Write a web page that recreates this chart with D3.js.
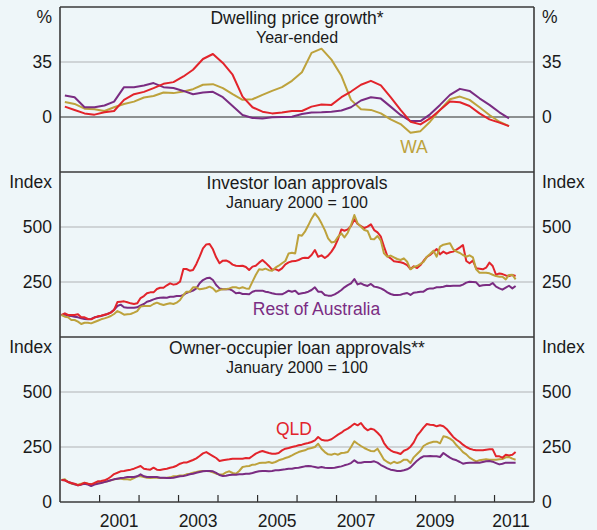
<!DOCTYPE html>
<html>
<head>
<meta charset="utf-8">
<script src="https://cdn.jsdelivr.net/npm/d3@7"></script>
<style>
  html, body { margin: 0; padding: 0; background: #eef6f9; }
  svg { display: block; font-family: "Liberation Sans", Arial, sans-serif; }
</style>
</head>
<body>
<div class="viewer"></div>
<script>
'use strict';

// quarterly, year-ended %, Q1 2000 .. Q2 2011
var priceQld = [6.6, 4.5, 2.3, 1.5, 3.0, 3.8, 10.9, 14.5, 16.0, 18.4, 21.1, 22.2, 25.8, 30.1, 36.9, 40.1, 34.4, 26.9, 13.0, 6.2, 3.4, 2.3, 2.8, 3.8, 3.8, 6.6, 7.9, 7.7, 12.6, 16.2, 20.5, 23.0, 20.1, 12.6, 4.5, -3.0, -4.7, -0.9, 4.5, 9.8, 9.4, 7.0, 2.3, -1.5, -3.6, -5.8];
var priceWa = [9.6, 8.3, 5.3, 4.9, 3.8, 6.2, 8.3, 9.8, 12.4, 13.4, 15.6, 15.2, 16.2, 17.7, 20.5, 20.9, 18.4, 14.5, 10.9, 11.3, 14.1, 16.6, 19.0, 23.0, 28.5, 40.8, 43.5, 36.5, 26.2, 10.9, 4.9, 4.5, 2.3, -1.5, -4.5, -10.0, -9.0, -3.0, 4.5, 11.3, 13.0, 10.9, 6.2, 1.3, -3.0, -5.8];
var priceRest = [13.7, 12.6, 6.2, 6.2, 7.3, 9.8, 19.0, 19.0, 20.1, 21.6, 19.0, 18.4, 16.6, 14.5, 15.6, 16.0, 12.6, 7.0, 1.3, -0.6, -0.9, -0.2, 0, 0.2, 1.9, 2.8, 3.0, 3.4, 4.1, 6.2, 10.5, 12.6, 11.7, 6.6, 1.3, -2.6, -2.6, 1.7, 7.7, 14.1, 17.9, 16.6, 11.9, 7.7, 3.0, -0.9];

// monthly index, Jan 2000 = 100, Jan 2000 .. Jul 2011
var investQld = [100, 107.6, 100, 100, 100, 103, 89.4, 89.4, 81.8, 80.3, 87.9, 93.9, 97, 101.5, 104.5, 110.6, 122.7, 159, 160.6, 162, 157.6, 153, 150, 153, 177, 186, 198.5, 203, 203, 218, 224, 224, 235, 244, 238, 241, 251.5, 309, 309, 301.5, 304.5, 332, 365, 403, 421, 423, 398.5, 362,
  335, 347, 348, 341, 329, 324, 323, 324, 318, 304.5, 320, 324, 338, 350, 338, 323, 306, 309, 301.5, 312, 330, 339, 344, 345, 350, 357.6, 360.6, 359, 372.7, 395.5, 365, 371, 359, 369.7, 388, 410.6, 445.5, 489, 483, 489, 504.5, 535, 513.6, 504.5, 495.5, 501.5, 512, 486, 475.8,
  456, 410.6, 368, 357.6, 344, 342.4, 339.4, 335, 327, 309, 321, 313.6, 327, 345.5, 363.6, 372.7, 386, 400, 375.8, 388, 378.8, 385, 388, 397, 407.6, 418, 345.5, 335, 347, 312, 310.6, 307.6, 315, 338, 322.7, 283, 289, 286, 280, 277, 282, 277];
var investWa = [100, 92.4, 89.4, 77.3, 77.3, 69.7, 59, 65, 65, 62, 68, 74, 80.3, 84.8, 89.4, 95.5, 104.5, 118, 110.6, 101.5, 103, 104.5, 110.6, 118, 138, 141, 141, 141, 150, 156, 150, 145.5, 150, 153, 150, 156, 168, 191, 206, 206, 225.8, 225.8, 216.7, 219.7, 222.7, 228.8, 221, 206,
  213.6, 216.7, 216.7, 221, 225.8, 225.8, 221, 225.8, 221, 219.7, 251.5, 281.8, 307.6, 306, 310.6, 303.8, 301.5, 315, 324, 335, 345.5, 380, 383, 380, 463.6, 460.6, 478.8, 507.6, 537.9, 562, 544, 516.7, 486, 448.5, 430, 433, 456, 471, 453, 474, 509, 554.5, 516.7, 501.5, 486, 482, 445.5, 444, 459,
  438, 380, 365, 370, 362, 354.5, 350, 357.6, 342, 307.6, 318, 322.7, 332, 341, 365, 377, 392.4, 365, 410.6, 419.7, 422.7, 425.8, 398.5, 388, 382, 372.7, 365, 371, 362, 307.6, 292.4, 292.4, 292.4, 289.4, 283, 277, 274, 274, 262, 282, 283, 262];
var investRest = [100, 101.5, 97, 95.5, 92.4, 89.4, 84.8, 81.8, 80.3, 81.8, 89.4, 92.4, 95.5, 100, 104.5, 112, 124, 141, 147, 135, 133, 133, 133, 135, 144, 150, 160.6, 165, 171, 175.8, 178.8, 180, 178.8, 183, 183, 186, 186, 191, 200, 206, 210.6, 221, 244, 259, 266.7, 269.7, 259, 236,
  221, 216.7, 216.7, 218, 210.6, 198.5, 201.5, 195.5, 195.5, 194, 206, 210.6, 210.6, 210.6, 206, 203, 198.5, 195.5, 194, 194, 201.5, 210.6, 206, 210.6, 195.5, 198.5, 201.5, 206, 213.6, 225.8, 206, 206, 191, 188, 188, 194, 203, 213.6, 225.8, 236, 244, 263.6, 239, 244, 236, 232, 241, 229, 225.8,
  221, 213.6, 203, 195.5, 191, 191, 192.4, 197, 200, 191, 201.5, 203, 206, 206, 216.7, 221, 221, 225.8, 225.8, 228.8, 233, 231.8, 233, 233, 233, 238, 247, 251.5, 250, 248.5, 231.8, 234.8, 236, 236, 245.5, 228.8, 221, 215, 224, 233, 221, 232];

var ownerQld = [100, 98.5, 91, 86.4, 83.3, 75.8, 80.3, 88, 83.3, 80.3, 86.4, 94, 95.5, 98.5, 104.5, 115, 127, 133, 139.4, 141, 144, 147, 151.5, 157.6, 163.6, 151.5, 148.5, 147, 156, 147, 145.5, 148.5, 151.5, 156, 159, 165, 174, 179, 179, 185, 191, 198.5, 209, 221, 227, 218, 209, 200,
  186, 189.4, 192.4, 194, 197, 197, 197, 197, 200, 198.5, 209, 219.7, 227, 232, 227, 222.7, 219.7, 219.7, 222.7, 234.8, 242.4, 245.5, 250, 253, 257.6, 260.6, 265, 268, 272.7, 280, 295.5, 283, 280, 280, 285, 295.5, 306, 315, 325.8, 333.3, 344, 356, 348.5, 359, 338, 325.8, 333.3, 328.8, 315,
  298.5, 268, 247, 234.8, 227, 224, 218, 233, 239, 251.5, 271, 301.5, 319.7, 338, 354.5, 351.5, 350, 344, 348.5, 344, 332, 313.6, 295.5, 283, 272.7, 260.6, 250, 242.4, 237.9, 234.8, 234.8, 234.8, 237.9, 239.4, 239.4, 207.6, 207.6, 201.5, 215, 212, 215, 227];
var ownerWa = [100, 103, 91, 83.3, 80.3, 78.8, 83.3, 86.4, 83.3, 80.3, 83.3, 86.4, 88, 91, 94, 98.5, 103, 106, 106, 103, 103, 101.5, 109, 116.7, 116.7, 113.6, 110.6, 109, 110.6, 110.6, 109, 109, 110.6, 112, 116.7, 116.7, 121, 121, 125.8, 128.8, 133, 136, 139.4, 141, 141, 139.4, 135, 128.8,
  125, 125.8, 134.8, 139.4, 131.8, 128.8, 141, 159, 162, 163.6, 169.7, 171, 177, 178.8, 178.8, 181.8, 177, 181.8, 189.4, 194, 200, 204.5, 212, 219.7, 227, 231.8, 234.8, 242.4, 245.5, 250, 265, 242.4, 227, 216.7, 215, 219.7, 215, 222.7, 224, 227, 250, 275.8, 265, 254.5, 245.5, 237.9, 231.8, 230.3, 242.4,
  216.7, 192.4, 181.8, 174, 183, 177, 181.8, 192.4, 192.4, 177, 203, 218, 233, 254.5, 263.6, 269.7, 274, 274, 266.7, 298.5, 295.5, 288, 277, 257.6, 242.4, 227, 216.7, 201.5, 192.4, 184.8, 189.4, 192.4, 194, 192.4, 192.4, 192.4, 194, 195.5, 203, 204.5, 197, 192.4];
var ownerRest = [100, 98.5, 91, 86.4, 80.3, 75.8, 78.8, 83.3, 78.8, 72.7, 78.8, 83.3, 86.4, 91, 94, 98.5, 103, 106, 109, 110.6, 113.6, 113.6, 113.6, 116.7, 125.8, 116.7, 113.6, 113.6, 113.6, 113.6, 110.6, 110.6, 109, 109, 110.6, 113.6, 116.7, 118, 121, 125.8, 128.8, 133, 136, 139.4, 141, 141, 139.4, 132,
  122.7, 118, 119.7, 122.7, 124, 124, 125.8, 125.8, 128.8, 128.8, 131.8, 136.4, 139.4, 141, 141, 139.4, 141, 144, 144, 147, 148.5, 151.5, 151.5, 154.5, 156, 159, 162, 163.6, 162, 159, 156, 159, 156, 154.5, 154.5, 156, 159, 162, 166.7, 171, 177, 189.4, 178.8, 178.8, 181.8, 181.8, 181.8, 184.8, 178.8,
  168, 160.6, 153, 147, 144, 141, 141, 144, 148.5, 157.6, 172.7, 187.9, 200, 207.6, 207.6, 209, 207.6, 207.6, 204.5, 222.7, 212, 201.5, 194, 189.4, 181.8, 174, 177, 178.8, 178.8, 180, 178.8, 181.8, 184.8, 186.4, 183.3, 177, 171, 174, 178.8, 178.8, 178.8, 178.8];

var yearLabels = [2001, 2003, 2005, 2007, 2009, 2011];

var colors = { qld: '#e2242b', wa: '#bda23c', rest: '#7a2c82' };

var W = 597, H = 530,
    left = 60, right = 534,
    fs = 17.5, fsSub = 16;

var svg = d3.select('.viewer').append('svg')
  .attr('width', W).attr('height', H);

svg.append('rect').attr('width', W).attr('height', H).attr('fill', '#eef6f9');

var x = d3.scaleTime()
  .domain([new Date(2000, 0, 1), new Date(2012, 0, 1)])
  .range([left, right]);

var quarterDate = function (d, i) { return new Date(2000, 3 * i + 1, 15); };
var monthDate = function (d, i) { return new Date(2000, i, 15); };

var panels = [
  { top: 7, domain: [-35, 70], ticks: [35, 0], unit: '%', grid: [35], zero: true,
    title: 'Dwelling price growth*', sub: 'Year-ended',
    series: [[priceWa, 'wa'], [priceRest, 'rest'], [priceQld, 'qld']], date: quarterDate },
  { top: 172, domain: [0, 750], ticks: [500, 250], unit: 'Index', grid: [250, 500],
    title: 'Investor loan approvals', sub: 'January 2000 = 100',
    series: [[investRest, 'rest'], [investQld, 'qld'], [investWa, 'wa']], date: monthDate },
  { top: 337, domain: [0, 750], ticks: [500, 250, 0], unit: 'Index', grid: [250, 500],
    title: 'Owner-occupier loan approvals**', sub: 'January 2000 = 100',
    series: [[ownerWa, 'wa'], [ownerRest, 'rest'], [ownerQld, 'qld']], date: monthDate }
];

var panelH = 165;

panels.forEach(function (p) {
  var y = d3.scaleLinear().domain(p.domain).range([p.top + panelH, p.top]);
  var g = svg.append('g');

  // grid
  p.grid.forEach(function (v) {
    g.append('line')
      .attr('x1', left).attr('x2', right)
      .attr('y1', y(v)).attr('y2', y(v))
      .attr('stroke', '#c4c8cb').attr('stroke-width', 1.5);
  });
  if (p.zero) {
    g.append('line')
      .attr('x1', left).attr('x2', right)
      .attr('y1', y(0)).attr('y2', y(0))
      .attr('stroke', '#2b2b2b').attr('stroke-width', 1.2);
  }

  // series
  var line = d3.line()
    .x(function (d, i) { return x(p.date(d, i)); })
    .y(function (d) { return y(d); });
  p.series.forEach(function (s) {
    g.append('path')
      .attr('d', line(s[0]))
      .attr('fill', 'none')
      .attr('stroke', colors[s[1]])
      .attr('stroke-width', 2)
      .attr('stroke-linejoin', 'round');
  });

  // tick labels, both sides
  p.ticks.forEach(function (v) {
    g.append('text').attr('x', 52).attr('y', y(v) + 6.3)
      .attr('text-anchor', 'end').attr('font-size', fs).attr('fill', '#1a1a1a').text(v);
    g.append('text').attr('x', 542).attr('y', y(v) + 6.3)
      .attr('font-size', fs).attr('fill', '#1a1a1a').text(v);
  });
  g.append('text').attr('x', 52).attr('y', p.top + 15.5)
    .attr('text-anchor', 'end').attr('font-size', fs).attr('fill', '#1a1a1a').text(p.unit);
  g.append('text').attr('x', 542).attr('y', p.top + 15.5)
    .attr('font-size', fs).attr('fill', '#1a1a1a').text(p.unit);

  // titles
  g.append('text').attr('x', (left + right) / 2).attr('y', p.top + 17)
    .attr('text-anchor', 'middle').attr('font-size', fs).attr('fill', '#1a1a1a').text(p.title);
  g.append('text').attr('x', (left + right) / 2).attr('y', p.top + 35.5)
    .attr('text-anchor', 'middle').attr('font-size', fsSub).attr('fill', '#1a1a1a').text(p.sub);
});

// x ticks on bottom panel
var bottom = 502;
d3.range(2001, 2012).forEach(function (yr) {
  var xx = x(new Date(yr, 0, 1));
  svg.append('line')
    .attr('x1', xx).attr('x2', xx).attr('y1', bottom).attr('y2', bottom - 7)
    .attr('stroke', '#2b2b2b').attr('stroke-width', 1.2);
});
yearLabels.forEach(function (yr) {
  svg.append('text')
    .attr('x', Math.min(x(new Date(yr, 6, 1)), 511))
    .attr('y', 527)
    .attr('text-anchor', 'middle').attr('font-size', fs).attr('fill', '#1a1a1a')
    .text(yr);
});

// frames
[7, 172, 337, 502].forEach(function (yy) {
  svg.append('line').attr('x1', left).attr('x2', right).attr('y1', yy).attr('y2', yy)
    .attr('stroke', '#3a3a3a').attr('stroke-width', 1.6);
});
[left, right].forEach(function (xx) {
  svg.append('line').attr('x1', xx).attr('x2', xx).attr('y1', 7).attr('y2', 502)
    .attr('stroke', '#3a3a3a').attr('stroke-width', 1.6);
});

// series labels
svg.append('text').attr('x', 414).attr('y', 153).attr('text-anchor', 'middle')
  .attr('font-size', fs).attr('fill', colors.wa).text('WA');
svg.append('text').attr('x', 316.5).attr('y', 315).attr('text-anchor', 'middle')
  .attr('font-size', fs).attr('fill', colors.rest).text('Rest of Australia');
svg.append('text').attr('x', 294).attr('y', 435).attr('text-anchor', 'middle')
  .attr('font-size', fs).attr('fill', colors.qld).text('QLD');
</script>
</body>
</html>
